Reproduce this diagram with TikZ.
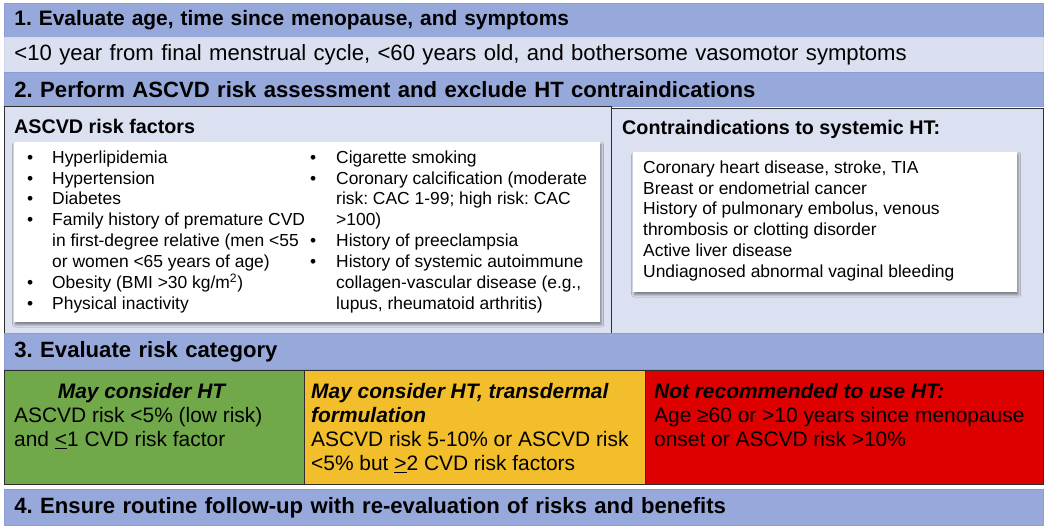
\documentclass[tikz,border=0pt]{standalone}
\usepackage{fontspec}
\setmainfont{Liberation Sans}
\usepackage{xcolor}
\usepackage{tikz}
\usetikzlibrary{positioning,shadows.blur}
\frenchspacing
\definecolor{HTband}{HTML}{97A9DB}
\definecolor{HTbandEdge}{HTML}{8A9ED5}
\definecolor{HTpale}{HTML}{DBE0F1}
\definecolor{HTpanel}{HTML}{DCE1F1}
\definecolor{HTgreen}{HTML}{71A94A}
\definecolor{HTamber}{HTML}{F2BE2B}
\definecolor{HTred}{HTML}{DE0000}
\definecolor{HTline}{HTML}{2E2E2E}
\newcommand{\bandfont}{\fontsize{22.2}{26}\selectfont\bfseries}
\newcommand{\firstbandfont}{\fontsize{21}{25}\selectfont\bfseries}
\newcommand{\paletext}{\fontsize{22.2}{26}\selectfont}
\newcommand{\bodyfont}{\fontsize{21}{24}\selectfont}
\newcommand{\titlefont}{\fontsize{19.8}{24}\selectfont\bfseries}
\newcommand{\listfont}{\fontsize{17.5}{21}\selectfont}
\newcommand{\bi}[1]{\textbf{\textit{#1}}}
\tikzset{
  band/.style={fill=HTband, draw=HTbandEdge, line width=0.8bp, anchor=north west, text width=1019bp, inner xsep=10bp, inner ysep=0pt, align=left, font=\bandfont},
  paleband/.style={band, fill=HTpale, draw=HTpale!85!HTband, font=\paletext},
  panel/.style={fill=HTpanel, draw=HTline, line width=0.9bp, anchor=north west, inner sep=0pt},
  paneltitle/.style={anchor=base west, inner sep=0pt, font=\titlefont},
  whitecard/.style={fill=white, draw=none, anchor=north west, inner sep=0pt, blur shadow={shadow xshift=1bp, shadow yshift=-2.5bp, shadow blur radius=2.5bp, shadow opacity=45}},
  listtext/.style={anchor=north west, inner sep=0pt, font=\listfont},
  riskbox/.style={draw=HTline, line width=0.8bp, anchor=north west, inner sep=0pt, minimum height=114bp},
  boxtext/.style={anchor=north west, inner sep=0pt, font=\bodyfont}
}

\begin{document}
\begin{tikzpicture}[x=1bp, y=-1bp]
\useasboundingbox (0,0) rectangle (1050,531);
% step 1
\node[band, font=\firstbandfont, minimum height=34bp] (eval) at (4,3) {1. Evaluate age, time since menopause, and symptoms};
\node[paleband, minimum height=35bp] (criteria) at (4,37) {<10 year from final menstrual cycle, <60 years old, and bothersome vasomotor symptoms};
% step 2
\node[band, minimum height=34bp] (assess) at (4,72) {2. Perform ASCVD risk assessment and exclude HT contraindications};
\node[panel, minimum width=607bp, minimum height=227bp] (riskpanel) at (4,106) {};
\node[panel, minimum width=432bp, minimum height=225bp] (contrapanel) at (611,108) {};
\node[paneltitle] (risktitle) at (14,134) {ASCVD risk factors};
\node[paneltitle] (contratitle) at (622,135) {Contraindications to systemic HT:};
\node[whitecard, minimum width=586bp, minimum height=180bp] (riskcard) at (14,142) {};
\node[whitecard, minimum width=384bp, minimum height=140bp] (contracard) at (633,152) {};
\node[listtext] (riskcolA) at (27,148.3) {\begin{tabular}{@{}p{25bp}@{}l@{}}
\textbullet & Hyperlipidemia\\
\textbullet & Hypertension\\
\textbullet & Diabetes\\
\textbullet & Family history of premature CVD\\
 & in first-degree relative (men <55\\
 & or women <65 years of age)\\
\textbullet & Obesity (BMI >30 kg/m\textsuperscript{2})\\
\textbullet & Physical inactivity
\end{tabular}};
\node[listtext] (riskcolB) at (310,148.3) {\begin{tabular}{@{}p{26bp}@{}l@{}}
\textbullet & Cigarette smoking\\
\textbullet & Coronary calcification (moderate\\
 & risk: CAC 1-99; high risk: CAC\\
 & >100)\\
\textbullet & History of preeclampsia\\
\textbullet & History of systemic autoimmune\\
 & collagen-vascular disease (e.g.,\\
 & lupus, rheumatoid arthritis)
\end{tabular}};
\node[listtext] (contralist) at (643,158.3) {\begin{tabular}{@{}l@{}}
Coronary heart disease, stroke, TIA\\
Breast or endometrial cancer\\
History of pulmonary embolus, venous\\
thrombosis or clotting disorder\\
Active liver disease\\
Undiagnosed abnormal vaginal bleeding
\end{tabular}};
% step 3
\node[band, minimum height=36bp] (category) at (4,333) {3. Evaluate risk category};
\node[riskbox, fill=HTgreen, minimum width=300bp] (lowrisk) at (4,370) {};
\node[riskbox, fill=HTamber, minimum width=341bp] (midrisk) at (304,370) {};
\node[riskbox, fill=HTred, minimum width=398bp] (highrisk) at (645,370) {};
\node[boxtext] (lowtext) at (14,382) {\begin{tabular}{@{}l@{}}
\multicolumn{1}{@{}c@{}}{\hspace{8bp}\bi{May consider HT}}\\
ASCVD risk <5\% (low risk)\\
and \underline{<}1 CVD risk factor
\end{tabular}};
\node[boxtext] (midtext) at (311,382) {\begin{tabular}{@{}l@{}}
\bi{May consider HT, transdermal}\\
\bi{formulation}\\
ASCVD risk 5-10\% or ASCVD risk\\
<5\% but \underline{>}2 CVD risk factors
\end{tabular}};
\node[boxtext] (hightext) at (654,382) {\begin{tabular}{@{}l@{}}
\bi{Not recommended to use HT:}\\
Age ≥60 or >10 years since menopause\\
onset or ASCVD risk >10\%
\end{tabular}};
% step 4
\node[band, minimum height=36bp] (followup) at (4,489) {4. Ensure routine follow-up with re-evaluation of risks and benefits};
\end{tikzpicture}
\end{document}
